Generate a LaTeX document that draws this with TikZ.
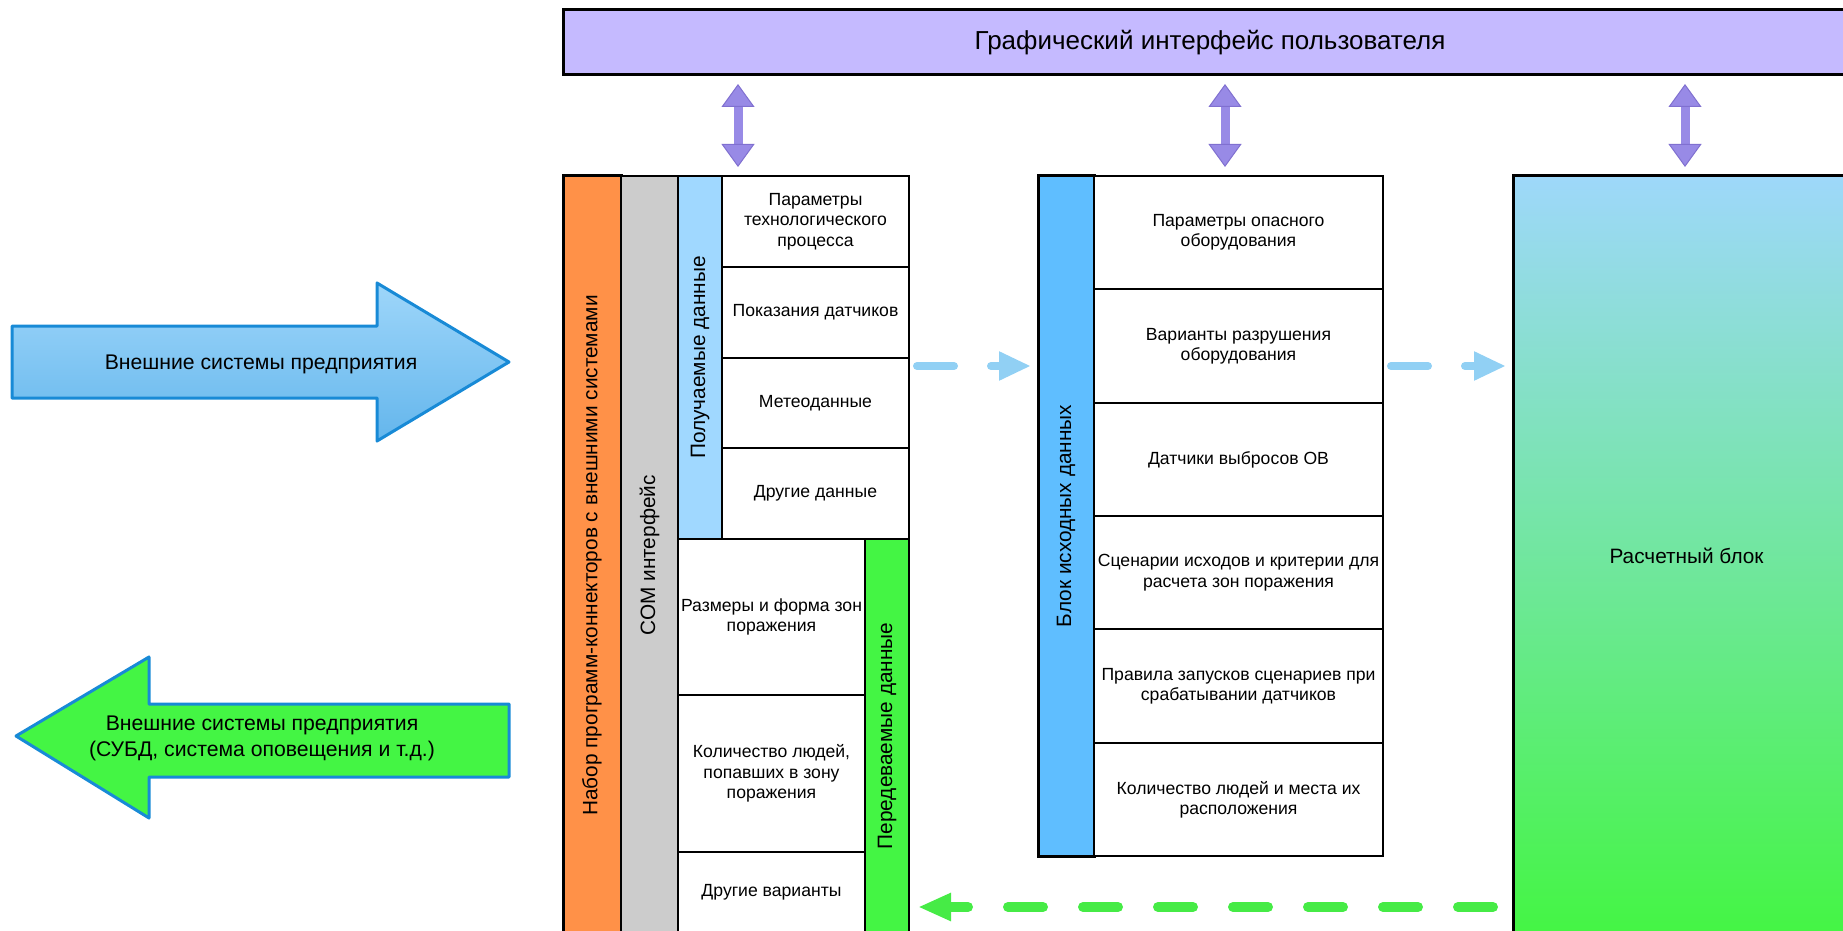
\documentclass[tikz,border=0pt]{standalone}
\usepackage{fontspec}
\setmainfont{Liberation Sans}
\usepackage{graphicx}
\usetikzlibrary{arrows.meta}
\definecolor{guilav}{RGB}{197,186,255}
\definecolor{guipurple}{RGB}{152,138,230}
\definecolor{guiedge}{RGB}{128,112,208}
\definecolor{conorange}{RGB}{255,145,72}
\definecolor{comgray}{RGB}{204,204,204}
\definecolor{recvblue}{RGB}{160,216,255}
\definecolor{sendgreen}{RGB}{68,245,68}
\definecolor{srcblue}{RGB}{95,190,255}
\definecolor{calctop}{RGB}{158,216,250}
\definecolor{calcbot}{RGB}{68,245,68}
\definecolor{flowblue}{RGB}{145,208,244}
\definecolor{flowgreen}{RGB}{70,235,70}
\definecolor{extblue1}{RGB}{158,214,250}
\definecolor{extblue2}{RGB}{100,182,236}
\definecolor{extgreen}{RGB}{68,245,68}
\definecolor{arrblue}{RGB}{24,138,214}
\tikzset{
  cell/.style={draw,line width=0.6pt,fill=white,inner sep=0pt,outer sep=0pt,align=center,font=\fontsize{8.8}{10.2}\selectfont},
  bar/.style={draw,line width=0.6pt,inner sep=0pt,outer sep=0pt,font=\fontsize{10.4}{12}\selectfont},
  thk/.style={line width=1.5pt},
  guibar/.style={draw,line width=1.5pt,fill=guilav,inner sep=0pt,outer sep=0pt,font=\fontsize{13}{15}\selectfont},
  guiarr/.style={line width=4.5pt,draw=guipurple,{Triangle[width=16.5pt,length=11.5pt,line width=0.5pt,color=guiedge,fill=guipurple]}-{Triangle[width=16.5pt,length=11.5pt,line width=0.5pt,color=guiedge,fill=guipurple]},shorten <=4.5pt,shorten >=4.5pt},
  inflow/.style={line width=4pt,draw=flowblue,line cap=round,dash pattern=on 18.5pt off 18.5pt,-{Triangle[width=13.5pt,length=16pt]},shorten <=4pt,shorten >=3.5pt},
  outflow/.style={line width=5pt,draw=flowgreen,line cap=round,dash pattern=on 17.5pt off 20pt,-{Triangle[width=13pt,length=16.5pt]},shorten <=10pt,shorten >=4.5pt},
  bigarr/.style={draw=arrblue,line width=1.5pt,line join=round},
  bigtxt/.style={align=center,font=\fontsize{10.6}{13}\selectfont}
}
\newcommand{\blk}[7]{\node[#1,anchor=north west,minimum width={(#5-#3)*0.5pt},minimum height={(#6-#4)*0.5pt}] (#2) at (#3,#4) {#7};}

\begin{document}
\begin{tikzpicture}[x=0.5pt,y=-0.5pt]
\useasboundingbox (0,0) rectangle (1843,931);
\blk{guibar}{gui}{563}{10}{1857}{75}{Графический интерфейс пользователя}
\blk{bar,thk,fill=conorange}{conn}{563}{176}{621}{935}{\rotatebox{90}{Набор программ-коннекторов с внешними системами}}
\blk{bar,fill=comgray}{com}{621}{176}{678}{935}{\rotatebox{90}{COM интерфейс}}
\blk{bar,fill=recvblue}{recv}{678}{176}{722}{539}{\rotatebox{90}{Получаемые данные}}
\blk{cell}{p1}{722}{176}{909}{267}{Параметры\\технологического\\процесса}
\blk{cell}{p2}{722}{267}{909}{358}{Показания датчиков}
\blk{cell}{p3}{722}{358}{909}{448}{Метеоданные}
\blk{cell}{p4}{722}{448}{909}{539}{Другие данные}
\blk{cell}{q1}{678}{539}{865}{695}{Размеры и форма зон\\поражения}
\blk{cell}{q2}{678}{695}{865}{852}{Количество людей,\\попавших в зону\\поражения}
\blk{cell}{q3}{678}{852}{865}{933}{Другие варианты}
\blk{bar,fill=sendgreen}{send}{865}{539}{909}{933}{\rotatebox{90}{Передеваемые данные}}
\blk{bar,thk,fill=srcblue}{src}{1038}{176}{1094}{856}{\rotatebox{90}{Блок исходных данных}}
\blk{cell}{m1}{1094}{176}{1383}{289}{Параметры опасного\\оборудования}
\blk{cell}{m2}{1094}{289}{1383}{403}{Варианты разрушения\\оборудования}
\blk{cell}{m3}{1094}{403}{1383}{516}{Датчики выбросов ОВ}
\blk{cell}{m4}{1094}{516}{1383}{629}{Сценарии исходов и критерии для\\расчета зон поражения}
\blk{cell}{m5}{1094}{629}{1383}{743}{Правила запусков сценариев при\\срабатывании датчиков}
\blk{cell}{m6}{1094}{743}{1383}{856}{Количество людей и места их\\расположения}
\blk{bar,thk,top color=calctop,bottom color=calcbot}{calc}{1513}{176}{1860}{935}{Расчетный блок}

\coordinate (ga) at (738,0);
\coordinate (gb) at (1225,0);
\coordinate (gc) at (1685,0);
\foreach \g/\b in {ga/conn,gb/src,gc/calc}
  \draw[guiarr] (gui.south -| \g) -- (\g |- \b.north);

\coordinate (fin) at (0,366);
\coordinate (fout) at (0,907);
\draw[inflow] (p3.east |- fin) -- (src.west |- fin);
\draw[inflow] (m2.east |- fin) -- (calc.west |- fin);
\draw[outflow] (calc.west |- fout) -- (send.east |- fout);

\draw[bigarr,top color=extblue1,bottom color=extblue2] (12,326) -- (377,326) -- (377,283) -- (509,362) -- (377,441) -- (377,398) -- (12,398) -- cycle;
\node[bigtxt] (extin) at (261,364) {Внешние системы предприятия};
\draw[bigarr,fill=extgreen] (509,704) -- (149,704) -- (149,657) -- (16,736) -- (149,818) -- (149,777) -- (509,777) -- cycle;
\node[bigtxt] (extout) at (262,738) {Внешние системы предприятия\\(СУБД, система оповещения и т.д.)};
\end{tikzpicture}
\end{document}
